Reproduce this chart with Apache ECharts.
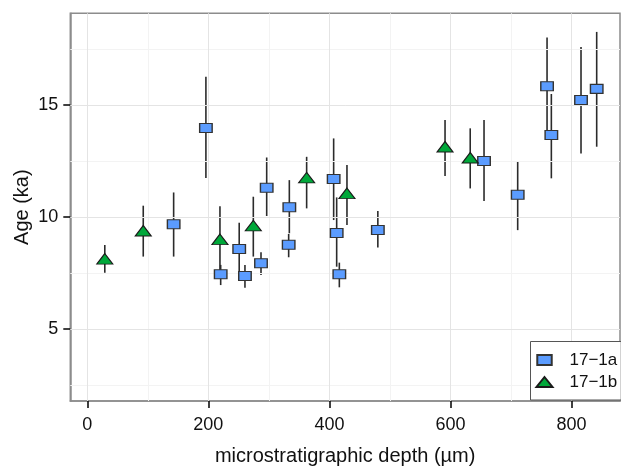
<!DOCTYPE html>
<html>
<head>
<meta charset="utf-8">
<script src="https://cdn.jsdelivr.net/npm/echarts@6/dist/echarts.min.js"></script>
<style>
  html, body { margin: 0; padding: 0; background: #ffffff; }
  #chart { width: 621px; height: 466px; }
</style>
</head>
<body>
<div id="chart"></div>
<script>
// Sample 17-1a: depth (µm), age (ka) and the lower / upper ends of each age uncertainty
const depthA = [142.7, 196, 220.4, 251, 260.5, 287, 296.4, 332.7, 333.8, 407, 412, 416.4, 480, 655.4, 711, 759.5, 766.6, 815.6, 841.5];
const ageA   = [9.68, 13.97, 7.45, 8.58, 7.37, 7.94, 11.31, 8.77, 10.44, 11.70, 9.29, 7.45, 9.43, 12.50, 11.00, 15.84, 13.66, 15.22, 15.72];
const lowA   = [8.24, 11.74, 6.97, 7.38, 6.85, 7.42, 10.05, 8.21, 9.28, 9.87, 7.79, 6.87, 8.64, 10.72, 9.42, 13.67, 11.73, 12.84, 13.14];
const highA  = [11.10, 16.26, 7.87, 9.75, 7.87, 8.43, 12.66, 9.25, 11.65, 13.51, 10.88, 7.97, 10.27, 14.33, 12.50, 18.01, 15.49, 17.59, 18.26];

// Sample 17-1b
const depthB = [29, 92.5, 219.2, 274.3, 362.4, 429, 591, 632.6];
const ageB   = [8.14, 9.39, 9.01, 9.62, 11.76, 11.06, 13.14, 12.65];
const lowB   = [7.52, 8.24, 7.53, 8.24, 10.39, 9.65, 11.83, 11.28];
const highB  = [8.76, 10.51, 10.49, 10.91, 12.69, 12.32, 14.33, 13.96];

// Axis ticks and grid lines
const xTicks = [0, 200, 400, 600, 800];
const xMinor = [100, 300, 500, 700];
const yTicks = [5, 10, 15];
const yMinor = [2.5, 7.5, 12.5, 17.5];

const seriesNames = ['17\u22121a', '17\u22121b'];

const FONT = "'Liberation Sans', Arial, Helvetica, sans-serif";

const chart = echarts.init(document.getElementById('chart'), null, { renderer: 'canvas' });

function errorBars(depth, low, high) {
  return {
    type: 'custom',
    silent: true,
    z: 3,
    data: depth.map((d, i) => [d, low[i], high[i]]),
    renderItem(params, api) {
      const top = api.coord([api.value(0), api.value(2)]);
      const bot = api.coord([api.value(0), api.value(1)]);
      return {
        type: 'line',
        shape: { x1: top[0], y1: top[1], x2: bot[0], y2: bot[1] },
        style: { stroke: '#2b2b2b', lineWidth: 1.6 }
      };
    }
  };
}

function gridLines(values, axisKey, color) {
  return values.map(v => ({ [axisKey]: v, lineStyle: { color: color, width: 1, type: 'solid' } }));
}

const frame = { show: true, onZero: false, lineStyle: { color: '#8c8c8c', width: 1.5 } };
const tickStyle = { color: '#000000', width: 1.5 };

const option = {
  animation: false,
  backgroundColor: '#ffffff',
  grid: {
    left: 70.3, top: 13.3, right: 1, bottom: 65,
    outerBoundsMode: 'none',
    containLabel: false,
    show: true, borderColor: '#8c8c8c', borderWidth: 1.5, backgroundColor: '#ffffff'
  },
  legend: {
    data: [
      { name: seriesNames[0], icon: 'path://M0,0H13V9H0Z' },
      { name: seriesNames[1], icon: 'path://M8,0L16,10L0,10Z' }
    ],
    z: 20,
    orient: 'vertical',
    left: 530.5, top: 341.5,
    itemWidth: 16, itemHeight: 10, itemGap: 5,
    padding: [10, 4, 9.5, 5],
    backgroundColor: '#ffffff',
    borderColor: '#555555', borderWidth: 1, borderRadius: 0,
    textStyle: { fontFamily: FONT, fontSize: 17, color: '#111', lineHeight: 17, padding: [0, 0, 0, 12] }
  },
  xAxis: {
    type: 'value', min: -28, max: 880,
    name: 'microstratigraphic depth (\u00b5m)', nameLocation: 'middle', nameGap: 45,
    nameMoveOverlap: false,
    nameTextStyle: { fontFamily: FONT, fontSize: 20, color: '#111' },
    axisLine: frame,
    axisTick: { show: true, inside: false, customValues: xTicks, length: 7, lineStyle: tickStyle },
    axisLabel: { customValues: xTicks, margin: 15, fontFamily: FONT, fontSize: 18, color: '#111' },
    splitLine: { show: false }
  },
  yAxis: {
    type: 'value', min: 1.8, max: 19.09,
    name: 'Age (ka)', nameLocation: 'middle', nameGap: 38,
    nameMoveOverlap: false,
    nameTextStyle: { fontFamily: FONT, fontSize: 20, color: '#111' },
    axisLine: frame,
    axisTick: { show: true, inside: false, customValues: yTicks, length: 7, lineStyle: tickStyle },
    axisLabel: { customValues: yTicks, margin: 12, fontFamily: FONT, fontSize: 18, color: '#111' },
    splitLine: { show: false }
  },
  series: [
    {
      // background grid drawn through the axis scales
      type: 'scatter', data: [], silent: true, z: 1,
      markLine: {
        silent: true, symbol: 'none', animation: false,
        label: { show: false },
        data: [].concat(
          gridLines(xMinor, 'xAxis', '#f3f3f3'),
          gridLines(yMinor, 'yAxis', '#f3f3f3'),
          gridLines(xTicks, 'xAxis', '#e4e4e4'),
          gridLines(yTicks, 'yAxis', '#e4e4e4')
        )
      }
    },
    errorBars(depthA, lowA, highA),
    errorBars(depthB, lowB, highB),
    {
      name: seriesNames[0], type: 'scatter', z: 5,
      symbol: 'rect', symbolSize: [12.5, 9],
      itemStyle: { color: '#5b9cff', borderColor: '#333333', borderWidth: 1.2, opacity: 1 },
      data: depthA.map((d, i) => [d, ageA[i]])
    },
    {
      name: seriesNames[1], type: 'scatter', z: 5,
      symbol: 'triangle', symbolSize: [16, 10.5],
      itemStyle: { color: '#00a83a', borderColor: '#1a1a1a', borderWidth: 1.1, opacity: 1 },
      data: depthB.map((d, i) => [d, ageB[i]])
    }
  ]
};

chart.setOption(option);
</script>
</body>
</html>
